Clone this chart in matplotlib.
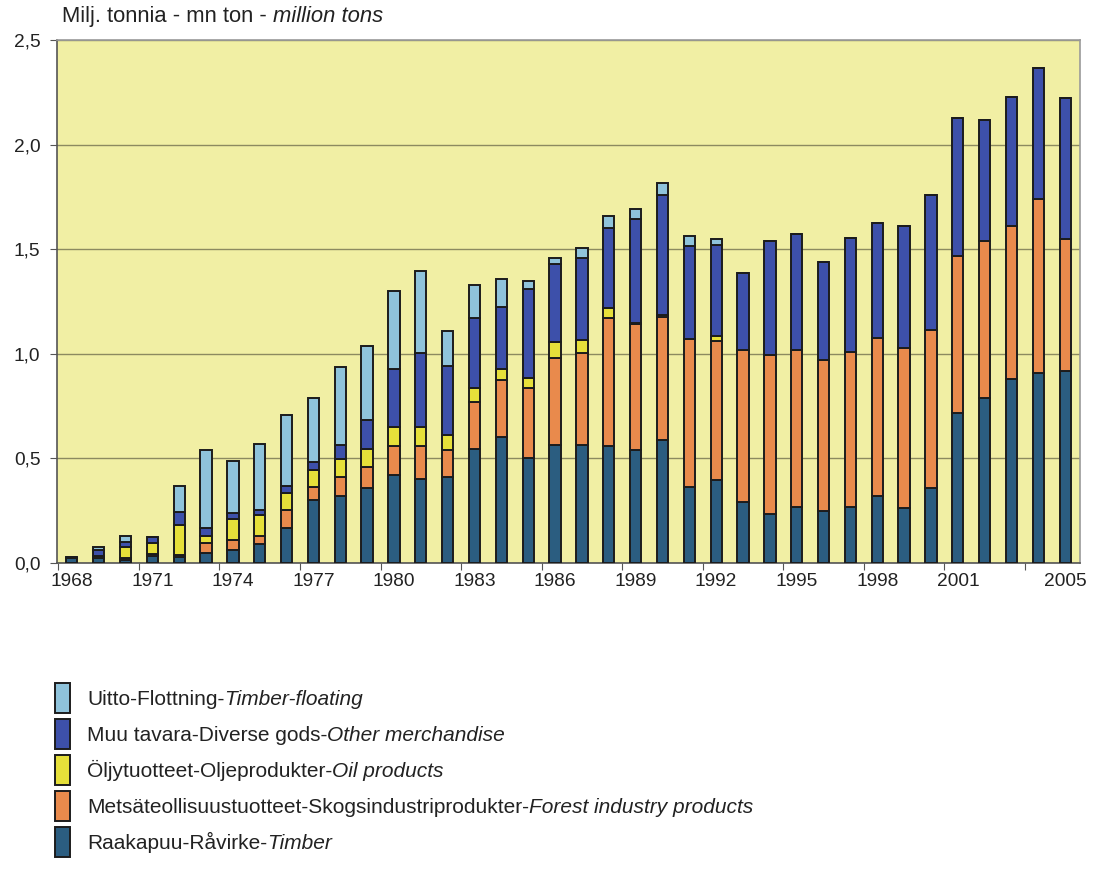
import numpy as np
import matplotlib.pyplot as plt
from matplotlib.patches import Rectangle
from matplotlib.ticker import FixedLocator, FuncFormatter

plt.rcParams['font.family'] = ['Liberation Sans', 'DejaVu Sans']

years = list(range(1968, 2006))

timber = [0.025, 0.025, 0.015, 0.035, 0.03, 0.05, 0.06, 0.092, 0.167, 0.30,
          0.322, 0.36, 0.419, 0.40, 0.411, 0.546, 0.604, 0.503, 0.562, 0.562,
          0.557, 0.541, 0.589, 0.364, 0.399, 0.293, 0.236, 0.269, 0.247, 0.269,
          0.321, 0.264, 0.357, 0.717, 0.791, 0.878, 0.906, 0.918]
forest = [0.0, 0.01, 0.008, 0.01, 0.01, 0.044, 0.05, 0.038, 0.087, 0.063,
          0.09, 0.10, 0.139, 0.161, 0.13, 0.222, 0.269, 0.332, 0.416, 0.443,
          0.614, 0.601, 0.587, 0.709, 0.661, 0.725, 0.756, 0.75, 0.725, 0.74,
          0.755, 0.766, 0.758, 0.75, 0.75, 0.733, 0.832, 0.631]
oil = [0.0, 0.0, 0.055, 0.05, 0.143, 0.035, 0.10, 0.10, 0.08, 0.08,
       0.083, 0.085, 0.093, 0.09, 0.073, 0.068, 0.052, 0.05, 0.078, 0.063,
       0.047, 0.005, 0.01, 0.0, 0.024, 0.0, 0.0, 0.0, 0.0, 0.0,
       0.0, 0.0, 0.0, 0.0, 0.0, 0.0, 0.0, 0.0]
other = [0.005, 0.025, 0.024, 0.03, 0.06, 0.036, 0.03, 0.025, 0.035, 0.04,
         0.07, 0.14, 0.274, 0.353, 0.328, 0.335, 0.30, 0.427, 0.372, 0.391,
         0.383, 0.498, 0.573, 0.443, 0.435, 0.366, 0.549, 0.552, 0.465, 0.545,
         0.55, 0.58, 0.643, 0.659, 0.575, 0.616, 0.629, 0.675]
floating = [0.0, 0.015, 0.027, 0.0, 0.124, 0.373, 0.249, 0.314, 0.338, 0.306,
            0.37, 0.35, 0.375, 0.39, 0.166, 0.158, 0.134, 0.035, 0.028, 0.049,
            0.06, 0.047, 0.057, 0.047, 0.032, 0.0, 0.0, 0.0, 0.0, 0.0,
            0.0, 0.0, 0.0, 0.0, 0.0, 0.0, 0.0, 0.0]

label_years = [1968, 1971, 1974, 1977, 1980, 1983, 1986, 1989, 1992, 1995, 1998, 2001, 2005]

series = [
    (timber, '#2b5d80', 'Raakapuu-Råvirke-', 'Timber'),
    (forest, '#e98a4c', 'Metsäteollisuustuotteet-Skogsindustriprodukter-', 'Forest industry products'),
    (oil, '#e6e03a', 'Öljytuotteet-Oljeprodukter-', 'Oil products'),
    (other, '#3d50aa', 'Muu tavara-Diverse gods-', 'Other merchandise'),
    (floating, '#8fc3db', 'Uitto-Flottning-', 'Timber-floating'),
]

W, H = 1098, 882
fig = plt.figure(figsize=(W / 100, H / 100), dpi=100)
ax = fig.add_axes([57 / W, 1 - 563 / H, (1080 - 57) / W, (563 - 40) / H])
ax.set_facecolor('#f1efa4')

x = np.arange(len(years))
bottom = np.zeros(len(years))
for vals, col, _, _ in series:
    v = np.array(vals)
    ax.bar(x, v, width=0.42, bottom=bottom, color=col, edgecolor='#1c1c1c', linewidth=1.4, zorder=3)
    bottom += v

ax.set_ylim(0, 2.5)
ax.set_xlim(-0.55, len(years) - 0.45)
ax.set_yticks(np.arange(0, 2.51, 0.5))
ax.yaxis.set_major_formatter(FuncFormatter(lambda v, p: f'{v:.1f}'.replace('.', ',')))
ax.yaxis.grid(True, color='#8c8a60', linewidth=1.0, zorder=0)

ax.xaxis.set_major_locator(FixedLocator(np.arange(-0.5, len(years), 3)))
ax.xaxis.set_minor_locator(FixedLocator([years.index(y) for y in label_years]))
ax.set_xticklabels([], minor=False)
ax.set_xticklabels([str(y) for y in label_years], minor=True)
ax.tick_params(axis='x', which='major', length=5, color='#555555')
ax.tick_params(axis='x', which='minor', length=0, pad=7, labelsize=13.8, labelcolor='#222222')
ax.tick_params(axis='y', length=5, pad=7, color='#555555', labelsize=13.8, labelcolor='#222222')

for s in ['left', 'bottom']:
    ax.spines[s].set_color('#555555')
    ax.spines[s].set_linewidth(1.2)
for s in ['top', 'right']:
    ax.spines[s].set_color('#9a9a9a')
    ax.spines[s].set_linewidth(1.2)

renderer = fig.canvas.get_renderer()


def two_part(xp, yp, normal, italic, size):
    # normal text followed by an italic tail on the same baseline
    t = fig.text(xp / W, 1 - yp / H, normal, fontsize=size, color='#222222', va='baseline', ha='left')
    bb = t.get_window_extent(renderer)
    fig.text(bb.x1 / W, 1 - yp / H, italic, fontsize=size, style='italic', color='#222222',
             va='baseline', ha='left')


two_part(62, 22, 'Milj. tonnia - mn ton - ', 'million tons', 15.8)

# legend, top entry first
top = 683
for vals, col, lab, ital in series[::-1]:
    fig.add_artist(Rectangle((55 / W, 1 - (top + 30) / H), 15 / W, 30 / H, transform=fig.transFigure,
                             facecolor=col, edgecolor='#1c1c1c', linewidth=1.4))
    two_part(87, top + 22, lab, ital, 15)
    top += 36

fig.savefig('out.png', dpi=100)
